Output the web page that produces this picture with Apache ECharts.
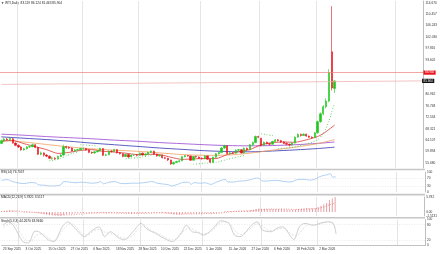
<!DOCTYPE html>
<html><head><meta charset="utf-8">
<script src="https://cdn.jsdelivr.net/npm/echarts@6/dist/echarts.min.js"></script>
<style>html,body{margin:0;padding:0;background:#fff}#c{width:440px;height:254px}</style>
</head><body><div id="c"></div><script>
const dates = [
'23 Sep 2025','24 Sep 2025','25 Sep 2025','26 Sep 2025','29 Sep 2025','30 Sep 2025',
'1 Oct 2025','2 Oct 2025','3 Oct 2025','6 Oct 2025','7 Oct 2025','8 Oct 2025','9 Oct 2025','10 Oct 2025','13 Oct 2025','14 Oct 2025','15 Oct 2025','16 Oct 2025','17 Oct 2025','20 Oct 2025','21 Oct 2025','22 Oct 2025','23 Oct 2025','24 Oct 2025','27 Oct 2025','28 Oct 2025','29 Oct 2025','30 Oct 2025','31 Oct 2025',
'3 Nov 2025','4 Nov 2025','5 Nov 2025','6 Nov 2025','7 Nov 2025','10 Nov 2025','11 Nov 2025','12 Nov 2025','13 Nov 2025','14 Nov 2025','17 Nov 2025','18 Nov 2025','19 Nov 2025','20 Nov 2025','21 Nov 2025','24 Nov 2025','25 Nov 2025','26 Nov 2025','27 Nov 2025','28 Nov 2025',
'1 Dec 2025','2 Dec 2025','3 Dec 2025','4 Dec 2025','5 Dec 2025','8 Dec 2025','9 Dec 2025','10 Dec 2025','11 Dec 2025','12 Dec 2025','15 Dec 2025','16 Dec 2025','17 Dec 2025','18 Dec 2025','19 Dec 2025','22 Dec 2025','23 Dec 2025','24 Dec 2025','26 Dec 2025','29 Dec 2025','30 Dec 2025','31 Dec 2025',
'2 Jan 2026','5 Jan 2026','6 Jan 2026','7 Jan 2026','8 Jan 2026','9 Jan 2026','12 Jan 2026','13 Jan 2026','14 Jan 2026','15 Jan 2026','16 Jan 2026','19 Jan 2026','20 Jan 2026','21 Jan 2026','22 Jan 2026','23 Jan 2026','26 Jan 2026','27 Jan 2026','28 Jan 2026','29 Jan 2026','30 Jan 2026',
'2 Feb 2026','3 Feb 2026','4 Feb 2026','5 Feb 2026','6 Feb 2026','9 Feb 2026','10 Feb 2026','11 Feb 2026','12 Feb 2026','13 Feb 2026','16 Feb 2026','17 Feb 2026','18 Feb 2026','19 Feb 2026','20 Feb 2026','23 Feb 2026','24 Feb 2026','25 Feb 2026','26 Feb 2026','27 Feb 2026',
'2 Mar 2026','3 Mar 2026','4 Mar 2026','5 Mar 2026','6 Mar 2026','9 Mar 2026','10 Mar 2026'];
const futureSlots = 31;

const opens = [62.9,63.9,64.5,64.3,64.6,63.0,62.2,61.6,60.5,60.9,61.6,61.7,62.4,61.4,58.9,59.4,58.6,58.2,57.4,57.5,57.3,58.1,58.6,61.7,61.4,61.2,60.1,60.5,60.6,
61.0,61.0,60.5,59.6,59.4,59.8,60.1,61.0,58.5,58.7,60.0,59.9,60.6,59.4,59.1,58.1,58.8,57.9,58.6,58.6,
58.5,59.3,58.6,58.9,59.6,60.0,58.9,58.3,58.5,57.6,57.4,56.8,55.3,55.9,56.2,56.5,58.0,58.4,58.3,56.7,58.1,57.9,
57.4,57.3,58.3,57.1,56.0,57.8,59.1,59.5,61.2,62.0,59.2,59.4,59.3,60.4,60.6,59.4,61.1,60.6,62.4,63.2,65.4,
64.8,62.2,63.3,62.8,62.6,63.6,64.2,63.9,63.4,62.9,62.6,62.3,63.0,65.2,66.2,65.8,66.3,65.6,65.2,65.0,
66.8,70.9,73.8,76.4,78.5,96.6,83.119];
const closes = [63.9,64.5,64.3,64.7,63.0,62.2,61.6,60.5,60.9,61.6,61.7,62.4,61.4,58.9,59.4,58.6,58.2,57.4,57.5,57.3,58.1,58.6,61.7,61.4,61.2,60.1,60.5,60.6,61.0,
61.0,60.5,59.6,59.4,59.8,60.1,61.0,58.5,58.7,60.0,59.9,60.6,59.4,59.1,58.1,58.8,57.9,58.6,58.6,58.5,
59.3,58.6,58.9,59.6,60.0,58.9,58.3,58.5,57.6,57.4,56.8,55.3,55.9,56.2,56.5,58.0,58.4,58.3,56.7,58.1,57.9,57.4,
57.3,58.3,57.1,56.0,57.8,59.1,59.5,61.2,62.0,59.2,59.4,59.3,60.4,60.6,59.4,61.1,60.6,62.4,63.2,65.4,65.2,
62.1,63.3,62.8,62.6,63.6,64.2,63.9,63.4,62.9,62.6,62.3,63.0,65.2,66.2,65.8,66.3,65.6,65.2,65.0,66.8,
70.9,73.8,76.4,78.5,88.9,83.3,85.904];
const lows = [62.6,63.6,63.9,63.9,62.8,61.9,61.2,60.2,60.2,60.7,61.2,61.5,61.1,58.6,58.5,58.0,57.8,57.1,56.9,56.8,57.0,57.9,58.4,60.9,60.8,59.9,59.8,60.1,60.3,
60.6,60.2,59.3,59.0,59.1,59.6,59.9,58.3,58.2,58.5,59.5,59.7,59.2,58.8,57.8,57.9,57.6,57.8,58.3,58.1,
58.3,58.4,58.4,58.8,59.4,58.7,58.0,58.0,57.4,57.1,56.4,55.0,55.1,55.6,55.9,56.3,57.8,58.0,56.5,56.6,57.6,57.2,
56.9,57.0,56.9,55.8,55.8,57.6,58.8,59.3,60.9,58.9,58.8,59.0,59.1,60.1,59.2,59.2,60.3,60.4,62.1,63.0,64.8,
61.8,62.0,62.5,62.2,62.4,63.3,63.6,63.1,62.6,62.2,61.8,62.1,62.9,65.0,65.4,65.6,65.3,64.9,64.7,64.9,
66.5,70.5,73.2,75.8,78.0,82.4,81.463];
const highs = [64.2,64.9,64.9,65.1,64.8,63.3,62.5,61.9,61.3,61.9,62.1,62.8,62.6,61.6,59.9,59.6,58.9,58.5,58.0,57.8,58.4,59.0,62.4,62.0,61.8,61.4,60.8,60.9,61.3,
61.4,61.2,60.7,59.9,60.1,60.4,61.3,61.1,59.1,60.3,60.4,60.9,60.8,59.7,59.2,59.1,59.0,58.8,58.9,59.0,
59.6,59.5,59.2,59.9,60.3,60.2,59.1,58.8,58.7,57.9,57.6,56.9,56.2,56.5,56.8,58.3,58.6,58.6,58.4,58.3,58.4,58.1,
57.8,58.6,58.4,57.3,58.0,59.4,59.9,61.5,62.4,62.1,59.8,59.7,60.7,60.9,60.8,61.4,61.3,62.7,63.6,65.8,65.7,
64.9,63.6,63.6,63.0,63.9,64.5,64.5,64.2,63.7,63.2,62.8,63.3,65.5,66.6,66.5,66.6,66.5,65.8,65.5,67.1,
71.3,74.3,77.0,79.5,90.2,113.4,86.124];

// moving averages read at sample bars [barIndex, value]
const maPurple = [[0,66.3],[8,65.9],[16,65.4],[24,65.0],[32,64.6],[40,64.1],[48,63.7],[56,63.2],[64,62.8],[72,62.4],[80,62.1],[88,62.0],[96,62.1],[104,62.4],[112,62.9],[118,63.4]];
const maBlue = [[0,65.3],[8,64.8],[16,64.3],[24,63.7],[32,63.0],[40,62.4],[48,61.8],[56,61.2],[64,60.7],[72,60.2],[80,59.9],[88,59.8],[96,60.1],[104,60.5],[112,61.0],[118,61.5]];
const maOrange = [[0,64.1],[8,63.4],[16,62.5],[24,61.6],[32,60.9],[40,60.4],[48,60.0],[56,59.4],[64,58.8],[72,58.5],[80,58.6],[88,59.3],[96,60.4],[104,61.5],[112,62.8],[118,64.3]];
const maRed = [[0,63.6],[4,64.0],[8,62.8],[12,61.7],[16,60.6],[20,59.2],[24,59.6],[28,60.3],[32,60.6],[36,60.0],[40,59.7],[44,59.3],[48,58.8],[52,58.9],[56,58.8],[60,57.8],[64,57.0],[68,57.2],[72,57.3],[76,57.3],[80,58.8],[84,59.8],[88,60.6],[92,62.4],[96,63.2],[100,63.4],[104,63.3],[108,64.2],[112,65.4],[114,66.5],[116,68.0],[118,69.6]];

// parabolic SAR runs
const sarRuns = [
 [[17,56.5],[19,56.8],[21,57.4],[23,58.3],[25,59.2],[27,59.7]],
 [[28,62.4],[30,62.3],[32,62.1],[34,61.9]],
 [[44,57.2],[46,57.4],[48,57.6],[50,57.9],[52,58.3],[54,58.8]],
 [[68,55.2],[72,55.6],[76,55.9],[80,57.0],[84,58.0],[86,58.4]],
 [[92,66.4],[94,66.1],[96,65.8],[97,65.6]],
 [[98,61.0],[101,61.2],[104,61.6],[107,62.4],[110,63.3],[112,64.2],[114,66.5],[116,71.0],[117,74.5],[118,77.6]]
];

const rsiPts = [[0,58],[2,62],[4,52],[6,45],[8,42],[10,47],[12,46],[13,36],[15,34],[17,30],[19,31],[21,36],[22,52],[24,50],[26,46],[28,49],[30,47],[32,44],[34,47],[35,52],[36,41],[38,49],[40,52],[42,43],[44,42],[46,44],[48,44],[50,46],[52,50],[53,53],[55,44],[57,40],[59,36],[60,30],[62,37],[64,48],[66,49],[67,39],[68,47],[70,44],[72,46],[74,38],[76,50],[78,60],[79,63],[80,50],[82,50],[84,55],[86,56],[88,62],[90,70],[91,68],[92,55],[94,55],[96,58],[98,57],[100,52],[102,50],[104,60],[105,63],[107,63],[109,59],[111,66],[112,74],[113,80],[114,84],[115,86],[116,92],[117,74],[118,76.7]];

const macdHist = [0.35,0.45,0.55,0.65,0.55,0.35,0.15,-0.1,-0.25,-0.3,-0.3,-0.2,-0.25,
-0.5,-0.65,-0.85,-1.0,-1.2,-1.35,-1.45,-1.5,-1.51,-1.2,-0.95,-0.8,-0.7,-0.6,-0.5,-0.4,
-0.35,-0.3,-0.35,-0.38,-0.37,-0.33,-0.22,-0.35,-0.43,-0.4,-0.38,-0.3,-0.35,-0.4,-0.5,-0.5,-0.55,-0.53,-0.5,-0.5,
-0.45,-0.43,-0.38,-0.3,-0.2,-0.22,-0.28,-0.3,-0.38,-0.45,-0.55,-0.78,-0.9,-0.95,-0.95,-0.85,-0.72,-0.62,-0.68,-0.6,-0.55,-0.55,
-0.55,-0.48,-0.5,-0.6,-0.5,-0.32,-0.15,0.12,0.38,0.38,0.4,0.4,0.45,0.5,0.45,0.55,0.55,0.7,0.9,1.2,1.4,
1.3,1.25,1.2,1.15,1.15,1.18,1.18,1.15,1.08,1.0,0.9,0.85,1.0,1.2,1.3,1.4,1.42,1.4,1.37,1.48,
1.85,2.4,3.0,3.5,4.6,5.2,5.782];
const macdSignal = [[0,0.2],[4,0.45],[8,0.2],[12,-0.15],[16,-0.55],[20,-1.0],[24,-1.1],[28,-0.75],[32,-0.45],[36,-0.35],[40,-0.37],[44,-0.45],[48,-0.5],[52,-0.4],[56,-0.3],[60,-0.5],[64,-0.8],[68,-0.7],[72,-0.58],[76,-0.5],[80,-0.05],[84,0.35],[88,0.5],[92,0.95],[96,1.15],[100,1.15],[104,1.0],[108,1.2],[112,1.45],[114,1.95],[116,2.8],[118,3.51]];

const stochK = [[0,78],[2,91],[4,72],[7,15],[9,10],[11,53],[12,55],[16,22],[18,15],[21,72],[23,91],[25,72],[29,34],[31,53],[34,72],[36,34],[38,53],[41,29],[43,22],[46,53],[49,85],[51,63],[54,47],[56,34],[60,15],[63,47],[65,78],[67,53],[69,50],[71,40],[75,72],[77,95],[80,85],[82,40],[84,34],[88,78],[90,91],[92,59],[95,53],[97,66],[99,72],[102,34],[103,22],[105,72],[107,85],[110,78],[113,88],[115,91],[117,85],[118,44.3]];
const stochD = [[0,70],[2,82],[4,84],[6,50],[8,22],[10,18],[12,40],[14,45],[16,30],[18,18],[20,40],[22,70],[24,85],[26,70],[28,45],[30,40],[32,55],[34,62],[36,52],[38,45],[40,42],[42,30],[44,28],[46,40],[48,65],[50,75],[52,62],[54,50],[56,40],[58,28],[60,22],[62,30],[64,55],[66,68],[68,58],[70,48],[72,45],[74,55],[76,78],[78,92],[80,88],[82,60],[84,42],[86,52],[88,68],[90,84],[92,75],[94,58],[96,58],[98,66],[100,64],[102,45],[104,38],[106,60],[108,80],[110,80],[112,82],[114,88],[116,90],[118,64]];

const priceTicks = [55.680,59.894,64.107,68.321,72.534,76.748,80.962,93.602,97.816,102.030,106.243,110.457,114.670];
const rsiTicks = [0,30,70,100];
const macdTicks = [-1.5131,0,5.782];
const macdTickLabels = ['-1.5131','0.00','5.782'];
const stochTicks = [0,20,80,100];
const tickLabels = ['23 Sep 2025','3 Oct 2025','15 Oct 2025','27 Oct 2025','6 Nov 2025','18 Nov 2025','28 Nov 2025','10 Dec 2025','22 Dec 2025','5 Jan 2026','15 Jan 2026','27 Jan 2026','6 Feb 2026','18 Feb 2026','2 Mar 2026'];
const separatorCats = ['1 Oct 2025','3 Nov 2025','1 Dec 2025','2 Jan 2026','2 Feb 2026','2 Mar 2026','f21'];
const redLevel = 88.950;
const trendStart = 84.6, lastPrice = 85.904;
const headerText = '\u25BC WTI,Daily  83.119 86.124 81.463 85.904';
const rsiText = 'RSI(14) 76.7057';
const macdText = 'MACD(12,26,9) 5.7821 3.5117';
const stochText = 'Stoch(5,3,3) 44.2670 63.9660';

const cats = dates.concat(Array.from({length: futureSlots}, (_, i) => 'f' + i));
const ohlc = dates.map((d, i) => [opens[i], closes[i], lows[i], highs[i]]);
const FONT = 'Liberation Sans';
const FS = 3.2;

function xAx(gi, showLabels) {
  return {
    type: 'category', gridIndex: gi, data: cats, boundaryGap: true,
    axisLine: {show: showLabels, lineStyle: {color: '#b4b4b4', width: 0.8}},
    axisTick: {show: false},
    axisLabel: {show: showLabels, interval: (i, v) => tickLabels.includes(v), align: 'left',
      fontSize: FS, fontFamily: FONT, color: '#333', margin: 2},
    splitLine: {show: true, interval: (i, v) => separatorCats.includes(v), lineStyle: {color: '#dedede', width: 0.8}}
  };
}
function yAx(gi, min, max, ticks, fmt) {
  return {
    type: 'value', gridIndex: gi, position: 'right', min: min, max: max, scale: true,
    axisLine: {show: true, lineStyle: {color: '#b4b4b4', width: 0.8}},
    axisTick: {show: false}, splitLine: {show: false},
    axisLabel: {show: true, customValues: ticks, formatter: fmt, fontSize: FS, fontFamily: FONT, color: '#333', margin: 2}
  };
}
const lineSeries = (name, data, color, xi, extra) => Object.assign({
  name, type: 'line', xAxisIndex: xi, yAxisIndex: xi, data, showSymbol: false, symbol: 'none',
  smooth: 0.3, lineStyle: {color, width: 0.8}, silent: true, z: 3
}, extra || {});

const series = [
  {type: 'candlestick', xAxisIndex: 0, yAxisIndex: 0, data: ohlc, barWidth: 1.8, z: 4,
   itemStyle: {color: '#1ec81e', color0: '#e8141c', borderColor: '#1ec81e', borderColor0: '#e8141c', borderWidth: 0.6},
   markLine: {silent: true, symbol: ['none', 'none'], animation: false,
     data: [
       {yAxis: redLevel, lineStyle: {color: '#ee8080', width: 0.7, type: 'solid'},
        label: {show: true, position: 'end', distance: 0, formatter: redLevel.toFixed(3), backgroundColor: '#e8141c', color: '#fff', fontSize: 3, fontFamily: FONT, padding: [0.6, 1.5]}},
       [{coord: [cats[0], trendStart], lineStyle: {color: '#eeaaaa', width: 0.7, type: 'solid'},
         label: {show: true, position: 'end', distance: 0, formatter: lastPrice.toFixed(3), backgroundColor: '#111', color: '#fff', fontSize: 3, fontFamily: FONT, padding: [0.6, 1.5]}},
        {coord: [cats[cats.length - 1], lastPrice]}]
     ]}},
  lineSeries('ma1', maPurple, '#9b45d0', 0),
  lineSeries('ma2', maBlue, '#3434b4', 0),
  lineSeries('ma3', maOrange, '#f0a060', 0),
  lineSeries('ma4', maRed, '#dc3838', 0, {smooth: 0.2}),
  ...sarRuns.map((run, k) => lineSeries('sar' + k, run, '#44c844', 0, {smooth: 0.2, lineStyle: {color: '#44c844', width: 0.9, type: [0.9, 1.9]}})),
  lineSeries('rsi', rsiPts, '#8fbcee', 1, {lineStyle: {color: '#8fbcee', width: 0.7}, markLine: {silent: true, symbol: ['none','none'], animation: false, label: {show: false},
     lineStyle: {color: '#d6d6d6', width: 0.5, type: [1, 1.5]}, data: [{yAxis: 70}, {yAxis: 30}]}}),
  {name: 'macd', type: 'bar', xAxisIndex: 2, yAxisIndex: 2, data: macdHist, barWidth: 0.8, silent: true,
   itemStyle: {color: '#e6a0a6'}},
  lineSeries('signal', macdSignal, '#e05050', 2, {lineStyle: {color: '#e05050', width: 0.6, type: [1, 1.5]}}),
  lineSeries('stochK', stochK, '#b0b0b0', 3, {lineStyle: {color: '#b0b0b0', width: 0.6}, markLine: {silent: true, symbol: ['none','none'], animation: false, label: {show: false},
     lineStyle: {color: '#d6d6d6', width: 0.5, type: [1, 1.5]}, data: [{yAxis: 80}, {yAxis: 20}]}}),
  lineSeries('stochD', stochD, '#cfcfcf', 3, {lineStyle: {color: '#cfcfcf', width: 0.6, type: [2, 1.5]}})
];

const chart = echarts.init(document.getElementById('c'), null, {renderer: 'canvas'});
chart.setOption({
  animation: false,
  backgroundColor: '#ffffff',
  textStyle: {fontFamily: FONT},
  grid: [
    {left: 0, right: 15, top: 1, height: 167},
    {left: 0, right: 15, top: 172, height: 20},
    {left: 0, right: 15, top: 197, height: 19},
    {left: 0, right: 15, top: 219.5, height: 26}
  ],
  xAxis: [xAx(0, false), xAx(1, false), xAx(2, false), xAx(3, true)],
  yAxis: [
    yAx(0, 53.84, 115.30, priceTicks, v => v.toFixed(3)),
    yAx(1, 0, 100, rsiTicks, v => String(v)),
    yAx(2, -1.5131, 5.782, macdTicks, v => macdTickLabels[macdTicks.indexOf(v)] || ''),
    yAx(3, 0, 100, stochTicks, v => String(v))
  ],
  series: series,
  graphic: [
    {type: 'rect', silent: true, shape: {x: 0, y: 168.7, width: 425, height: 1.6}, style: {fill: '#c6c6c6'}},
    {type: 'rect', silent: true, shape: {x: 0, y: 193.8, width: 425, height: 1.6}, style: {fill: '#c6c6c6'}},
    {type: 'rect', silent: true, shape: {x: 0, y: 216.9, width: 425, height: 1.6}, style: {fill: '#c6c6c6'}},
    {type: 'text', silent: true, x: 1, y: 1.5, style: {text: headerText, fontSize: FS, fontFamily: FONT, fill: '#222'}},
    {type: 'text', silent: true, x: 1, y: 171, style: {text: rsiText, fontSize: FS, fontFamily: FONT, fill: '#222'}},
    {type: 'text', silent: true, x: 1, y: 196, style: {text: macdText, fontSize: FS, fontFamily: FONT, fill: '#222'}},
    {type: 'text', silent: true, x: 1, y: 219.3, style: {text: stochText, fontSize: FS, fontFamily: FONT, fill: '#222'}}
  ]
});
</script></body></html>
